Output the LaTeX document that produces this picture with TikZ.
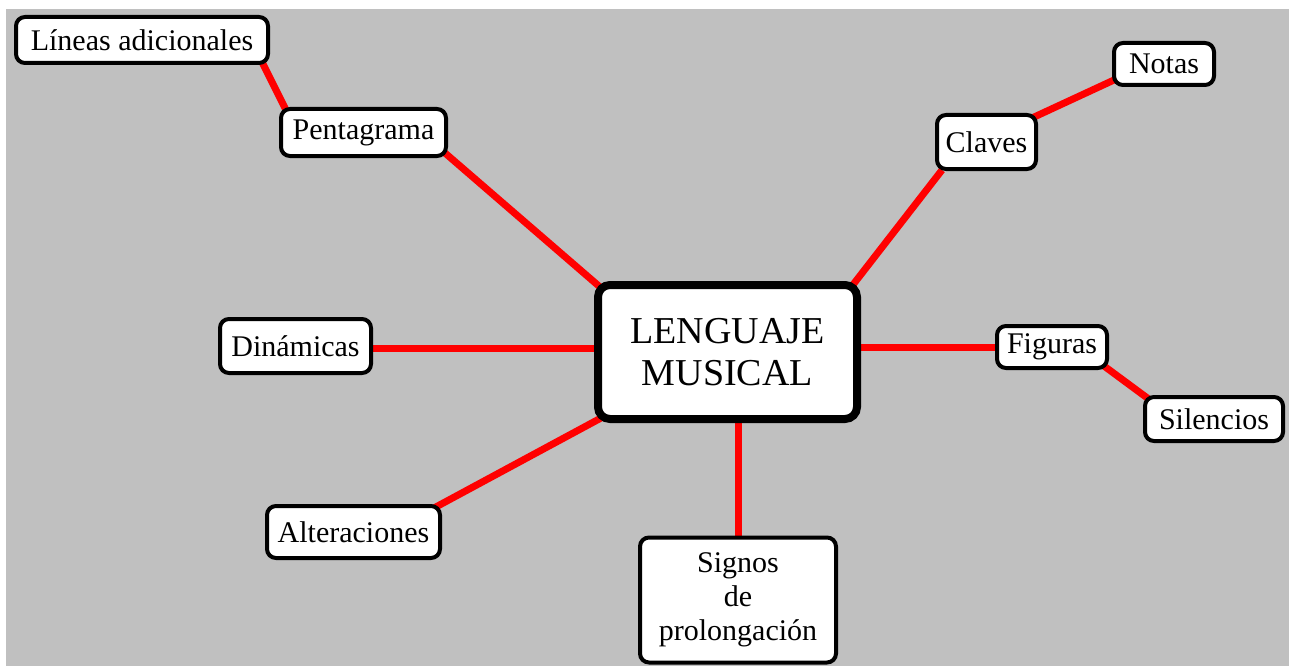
\documentclass[tikz,border=0pt]{standalone}
\usepackage{fontspec}
\setmainfont{Liberation Serif}
\usetikzlibrary{backgrounds,calc}
\definecolor{bggray}{HTML}{C0C0C0}
\definecolor{linkred}{HTML}{FF0000}
\tikzset{
  box/.style={draw=black, line width=4pt, fill=white, rounded corners=9pt,
    inner sep=0pt, align=center, font=\fontsize{30}{34}\selectfont},
  mainbox/.style={box, line width=8pt, rounded corners=12pt,
    font=\fontsize{38}{42}\selectfont},
  link/.style={draw=linkred, line width=7pt}
}
\begin{document}
\begin{tikzpicture}[x=1pt,y=-1pt]
\useasboundingbox (0,0) rectangle (1290,666);
% nodes
\node[box, minimum width=252pt, minimum height=46pt] (lin) at (142,40) {Líneas adicionales};
\node[box, minimum width=165pt, minimum height=47pt] (pen) at (363.5,132.5) {Pentagrama};
\node[box, minimum width=100pt, minimum height=42pt] (not) at (1164,64) {Notas};
\node[box, minimum width=99pt, minimum height=54pt] (cla) at (986.5,142) {Claves};
\node[mainbox, minimum width=259pt, minimum height=134pt] (lm) at (727.5,352) {LENGUAJE\\MUSICAL};
\node[box, minimum width=151pt, minimum height=54pt] (din) at (295.5,346) {Dinámicas};
\node[box, minimum width=110pt, minimum height=42pt] (fig) at (1052,347) {Figuras};
\node[box, minimum width=138pt, minimum height=44pt] (sil) at (1214,419) {Silencios};
\node[box, minimum width=173pt, minimum height=52pt] (alt) at (353.5,532) {Alteraciones};
\node[box, minimum width=196pt, minimum height=125pt] (sig) at (738,600) {Signos\\de\\prolongación};
% background and connectors
\begin{pgfonlayer}{background}
\fill[white] (0,0) rectangle (1290,666);
\fill[bggray] (6,9) rectangle (1289,666);
\draw[link] ($(lin.south east)+(-8,-3)$) -- ($(pen.north west)+(7,3)$);
\draw[link] ($(pen.south east)+(-3,-5)$) -- ($(lm.north west)+(6,6)$);
\draw[link] ($(lm.north east)+(-9,5)$) -- ($(cla.south west)+(7,-1)$);
\draw[link] ($(cla.north east)+(-6,5)$) -- ($(not.south west)+(2,-7)$);
\draw[link] ($(din.east)+(0,2)$) coordinate (d1) -- (d1 -| lm.west);
\draw[link] (fig.west) -- (fig.west -| lm.east);
\draw[link] ($(fig.south east)+(-5,-4)$) -- ($(sil.north west)+(7,5)$);
\draw[link] ($(lm.south west)+(7,-5)$) -- ($(alt.north east)+(-8,4)$);
\draw[link] (sig.north) -- (sig.north |- lm.south);
\end{pgfonlayer}
\end{tikzpicture}
\end{document}
